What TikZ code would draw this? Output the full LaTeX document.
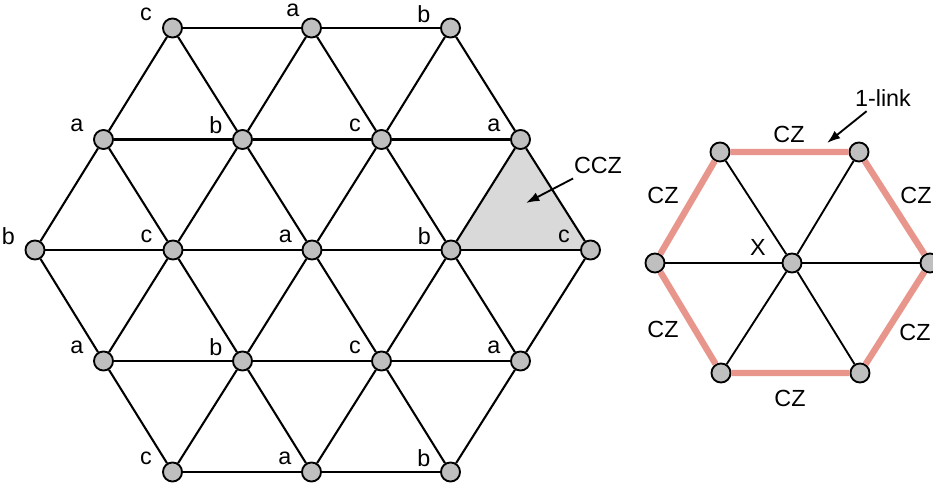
\documentclass[tikz,border=0pt]{standalone}
\usepackage{fontspec}
\setmainfont{Liberation Sans}
\usetikzlibrary{arrows.meta,backgrounds}
\definecolor{qubit}{RGB}{191,191,191}
\definecolor{cczfill}{RGB}{217,217,217}
\definecolor{linkred}{RGB}{232,150,140}

\begin{document}
\begin{tikzpicture}[
		x=0.75pt, y=-0.75pt,
		every node/.style={font=\fontsize{17.5}{20}\selectfont},
		every label/.append style={inner sep=0pt},
		qb/.style={circle, draw, line width=1.4pt, fill=qubit, minimum size=14.3pt, inner sep=0pt},
		lab/.style={label={[xshift=-20pt, yshift=10.5pt]center:#1}},
		labhi/.style={label={[xshift=-14pt, yshift=13pt]center:#1}},
		bond/.style={line width=1.55pt},
		spoke/.style={line width=1.4pt},
		link/.style={line width=4.8pt, draw=linkred},
		note/.style={-{Latex[length=10pt,width=7pt]}, line width=1.4pt}
	]
  \useasboundingbox (0,0) rectangle (933,489);
  % lattice
  \node (n11) [qb, lab=c] at (172.5, 28) {};
  \node (n12) [qb, labhi=a] at (311.5, 28) {};
  \node (n13) [qb, lab=b] at (450.5, 28) {};
  \node (n21) [qb, lab=a] at (103.5, 139.5) {};
  \node (n22) [qb, lab=b] at (242.5, 139.5) {};
  \node (n23) [qb, lab=c] at (381.5, 139.5) {};
  \node (n24) [qb, lab=a] at (520.5, 139.5) {};
  \node (n31) [qb, lab=b] at (35, 250) {};
  \node (n32) [qb, lab=c] at (173, 250) {};
  \node (n33) [qb, lab=a] at (312, 250) {};
  \node (n34) [qb, lab=b] at (451, 250) {};
  \node (n35) [qb, lab=c] at (590.5, 250) {};
  \node (n41) [qb, lab=a] at (103.5, 361) {};
  \node (n42) [qb, lab=b] at (242.5, 361) {};
  \node (n43) [qb, lab=c] at (381.5, 361) {};
  \node (n44) [qb, lab=a] at (520.5, 361) {};
  \node (n51) [qb, lab=c] at (172.5, 472) {};
  \node (n52) [qb, lab=a] at (311.5, 472) {};
  \node (n53) [qb, lab=b] at (450.5, 472) {};
  \begin{scope}[on background layer]
    \fill[cczfill] (n24.center) -- (n34.center) -- (n35.center) -- cycle;
  \end{scope}
  \draw[bond] (n11) -- (n12) -- (n13);
  \draw[bond] (n21) -- (n22) -- (n23) -- (n24);
  \draw[bond] (n31) -- (n32) -- (n33) -- (n34) -- (n35);
  \draw[bond] (n41) -- (n42) -- (n43) -- (n44);
  \draw[bond] (n51) -- (n52) -- (n53);
  \draw[bond] (n31) -- (n21) -- (n11);
  \draw[bond] (n41) -- (n32) -- (n22) -- (n12);
  \draw[bond] (n51) -- (n42) -- (n33) -- (n23) -- (n13);
  \draw[bond] (n52) -- (n43) -- (n34) -- (n24);
  \draw[bond] (n53) -- (n44) -- (n35);
  \draw[bond] (n31) -- (n41) -- (n51);
  \draw[bond] (n21) -- (n32) -- (n42) -- (n52);
  \draw[bond] (n11) -- (n22) -- (n33) -- (n43) -- (n53);
  \draw[bond] (n12) -- (n23) -- (n34) -- (n44);
  \draw[bond] (n13) -- (n24) -- (n35);
  \node (ccz) at (598, 165.5) {CCZ};
  \coordinate (ccz_tip) at (526, 203);
  \draw[note] (ccz) -- (ccz_tip);
  % hexagon
  \node (hc) [qb] at (792, 263) {};
  \node (h1) [qb] at (720, 152) {};
  \node (h2) [qb] at (859, 152) {};
  \node (h3) [qb] at (930, 263) {};
  \node (h4) [qb] at (860, 373) {};
  \node (h5) [qb] at (721, 373) {};
  \node (h6) [qb] at (655, 263) {};
  \draw[spoke] (h1) -- (hc) -- (h4);
  \draw[spoke] (h2) -- (hc) -- (h5);
  \draw[spoke] (h6) -- (hc) -- (h3);
  \draw[link] (h1) -- (h2) -- (h3) -- (h4) -- (h5) -- (h6) -- (h1);
  \node (cz_t) at (789, 134) {CZ};
  \node (cz_tl) at (663, 195) {CZ};
  \node (cz_tr) at (916, 195) {CZ};
  \node (cz_bl) at (663, 329) {CZ};
  \node (cz_br) at (915, 332) {CZ};
  \node (cz_b) at (790, 398) {CZ};
  \node (x_lab) at (758, 247) {X};
  \node (onelink) at (883, 98) {1-link};
  \coordinate (link_tip) at (827, 143);
  \draw[note] (onelink) -- (link_tip);
\end{tikzpicture}
\end{document}
